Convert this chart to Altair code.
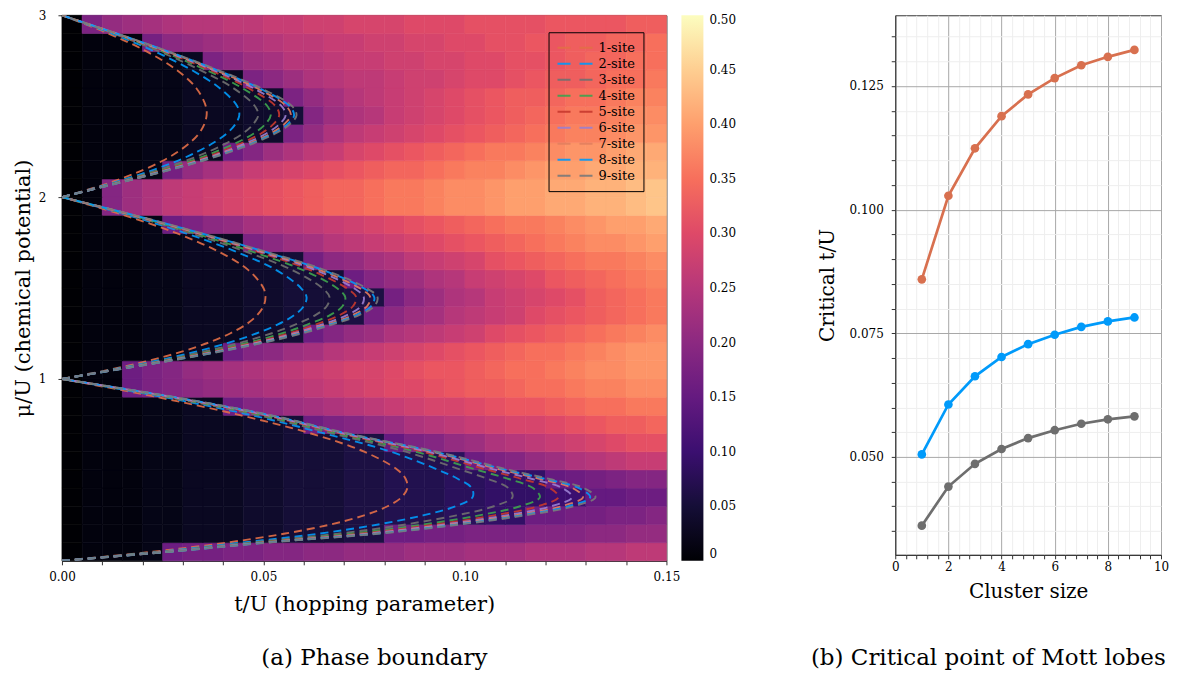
import altair as alt
import pandas as pd

# ---------------- left panel: heat map (order parameter, in hundredths) ----------------
T_EDGES = [0.000, 0.005, 0.010, 0.015, 0.020, 0.025, 0.030, 0.035, 0.040, 0.045,
           0.050, 0.055, 0.060, 0.065, 0.070, 0.075, 0.080, 0.085, 0.090, 0.095,
           0.100, 0.105, 0.110, 0.115, 0.120, 0.125, 0.130, 0.135, 0.140, 0.145, 0.150]
MU_EDGES = [0.0, 0.1, 0.2, 0.3, 0.4, 0.5, 0.6, 0.7, 0.8, 0.9, 1.0,
            1.1, 1.2, 1.3, 1.4, 1.5, 1.6, 1.7, 1.8, 1.9, 2.0,
            2.1, 2.2, 2.3, 2.4, 2.5, 2.6, 2.7, 2.8, 2.9, 3.0]
# rows from mu=0 (bottom) to mu=3 (top); columns from t=0 to t=0.15
HEAT = [
    [0, 1, 1, 1, 2, 16, 17, 17, 18, 18, 19, 19, 20, 20, 21, 21, 21, 22, 22, 22, 23, 23, 23, 24, 24, 24, 25, 25, 26, 26],
    [0, 1, 1, 1, 2, 2, 3, 3, 3, 4, 4, 5, 5, 5, 6, 6, 16, 16, 17, 17, 18, 18, 18, 19, 19, 19, 20, 20, 21, 21],
    [0, 1, 1, 1, 2, 2, 3, 3, 3, 4, 4, 5, 5, 5, 6, 6, 7, 7, 7, 8, 8, 9, 9, 16, 16, 17, 17, 18, 18, 19],
    [0, 1, 1, 1, 2, 2, 3, 3, 3, 4, 4, 5, 5, 5, 6, 6, 7, 7, 7, 8, 8, 9, 9, 9, 10, 10, 15, 15, 16, 16],
    [0, 1, 1, 1, 2, 2, 3, 3, 3, 4, 4, 5, 5, 5, 6, 6, 7, 7, 7, 8, 8, 9, 9, 9, 15, 16, 17, 18, 19, 19],
    [0, 1, 1, 1, 2, 2, 3, 3, 3, 4, 4, 5, 5, 5, 6, 6, 7, 7, 7, 8, 16, 18, 19, 21, 22, 24, 25, 26, 27, 27],
    [0, 1, 1, 1, 2, 2, 3, 3, 3, 4, 4, 5, 5, 5, 6, 6, 15, 18, 19, 21, 22, 24, 25, 26, 27, 28, 29, 30, 31, 31],
    [0, 1, 1, 1, 2, 2, 3, 3, 3, 4, 4, 5, 16, 18, 19, 21, 22, 24, 25, 26, 27, 28, 29, 29, 30, 31, 32, 33, 33, 34],
    [0, 1, 1, 1, 2, 2, 3, 3, 16, 19, 20, 22, 23, 24, 25, 26, 27, 28, 29, 29, 30, 31, 32, 32, 33, 34, 35, 35, 36, 36],
    [0, 1, 1, 16, 18, 19, 20, 21, 22, 23, 24, 25, 26, 27, 28, 29, 30, 30, 31, 32, 33, 33, 34, 35, 35, 36, 37, 37, 38, 38],
    [0, 1, 1, 16, 18, 19, 21, 22, 23, 24, 25, 26, 27, 28, 29, 29, 30, 31, 32, 32, 33, 34, 35, 35, 36, 37, 38, 38, 39, 39],
    [0, 1, 1, 1, 2, 2, 3, 3, 16, 19, 20, 22, 23, 25, 26, 27, 28, 29, 30, 31, 32, 33, 34, 35, 35, 36, 37, 38, 39, 39],
    [0, 1, 1, 1, 2, 2, 3, 3, 3, 4, 4, 5, 16, 19, 21, 22, 24, 25, 26, 27, 28, 30, 31, 32, 33, 34, 35, 36, 37, 38],
    [0, 1, 1, 1, 2, 2, 3, 3, 3, 4, 4, 5, 5, 5, 6, 17, 20, 22, 23, 25, 26, 27, 28, 30, 31, 32, 33, 34, 35, 36],
    [0, 1, 1, 1, 2, 2, 3, 3, 3, 4, 4, 5, 5, 5, 6, 6, 17, 20, 22, 24, 25, 27, 28, 29, 30, 31, 33, 34, 35, 36],
    [0, 1, 1, 1, 2, 2, 3, 3, 3, 4, 4, 5, 5, 5, 16, 19, 21, 22, 24, 25, 27, 28, 29, 30, 32, 33, 34, 35, 36, 37],
    [0, 1, 1, 1, 2, 2, 3, 3, 3, 4, 4, 5, 17, 20, 21, 23, 24, 26, 27, 28, 29, 31, 32, 33, 34, 35, 36, 36, 37, 38],
    [0, 1, 1, 1, 2, 2, 3, 3, 3, 18, 20, 22, 23, 25, 26, 27, 28, 29, 30, 31, 32, 33, 34, 35, 36, 37, 38, 38, 39, 40],
    [0, 1, 1, 1, 2, 16, 18, 20, 21, 23, 24, 25, 26, 27, 28, 29, 30, 31, 32, 33, 34, 35, 36, 36, 37, 38, 39, 40, 40, 41],
    [0, 1, 19, 22, 24, 26, 27, 28, 29, 30, 31, 32, 33, 34, 34, 35, 36, 36, 37, 38, 38, 39, 40, 40, 41, 41, 42, 42, 43, 44],
    [0, 1, 19, 22, 24, 26, 27, 28, 29, 30, 31, 32, 33, 34, 34, 35, 36, 36, 37, 38, 38, 39, 40, 40, 41, 41, 42, 42, 43, 44],
    [0, 1, 1, 1, 2, 17, 21, 23, 25, 27, 28, 29, 30, 31, 32, 33, 34, 34, 35, 36, 37, 37, 38, 39, 40, 40, 41, 41, 42, 42],
    [0, 1, 1, 1, 2, 2, 3, 3, 16, 19, 22, 24, 26, 27, 29, 30, 31, 32, 33, 34, 35, 36, 36, 37, 38, 39, 39, 40, 41, 41],
    [0, 1, 1, 1, 2, 2, 3, 3, 3, 4, 4, 18, 21, 24, 26, 27, 28, 29, 30, 31, 32, 33, 34, 35, 36, 37, 37, 38, 39, 39],
    [0, 1, 1, 1, 2, 2, 3, 3, 3, 4, 4, 5, 19, 22, 24, 25, 27, 28, 29, 30, 31, 32, 33, 34, 35, 36, 36, 37, 38, 38],
    [0, 1, 1, 1, 2, 2, 3, 3, 3, 4, 4, 18, 21, 23, 25, 26, 27, 28, 29, 30, 31, 32, 33, 33, 34, 35, 35, 36, 37, 37],
    [0, 1, 1, 1, 2, 2, 3, 3, 3, 18, 20, 22, 24, 25, 26, 26, 27, 28, 28, 29, 30, 30, 31, 32, 33, 33, 34, 35, 35, 36],
    [0, 1, 1, 1, 2, 2, 3, 18, 20, 22, 23, 25, 25, 26, 27, 27, 28, 28, 29, 29, 30, 30, 31, 31, 32, 33, 34, 34, 35, 35],
    [0, 1, 1, 1, 17, 20, 21, 22, 23, 24, 25, 26, 26, 27, 27, 28, 28, 29, 29, 30, 30, 31, 31, 32, 32, 33, 33, 34, 34, 35],
    [0, 18, 21, 22, 23, 24, 25, 25, 26, 26, 27, 27, 28, 28, 29, 29, 29, 30, 30, 30, 31, 31, 31, 31, 32, 32, 32, 32, 33, 33],
]

# ---------------- left panel: Mott-lobe boundaries (t/U in thousandths) ----------------
PHI = [0, 0.05, 0.1, 0.15, 0.2, 0.25, 0.3, 0.35, 0.4, 0.45, 0.5, 0.6, 0.7, 0.8, 0.9, 1.0]
SITES = ["1-site", "2-site", "3-site", "4-site", "5-site", "6-site", "7-site", "8-site", "9-site"]
SITE_COLORS = ["#e36f47", "#009afa", "#707070", "#3ea44e", "#c8392e",
               "#9b7fd1", "#e3805f", "#009afa", "#7a7a7a"]
LOBE1_T = [
    [0, 22.6, 40.9, 55.4, 66.7, 75.0, 80.8, 84.3, 85.7, 85.3, 83.3, 75.0, 61.8, 44.4, 23.7, 0],
    [0, 24.2, 44.6, 64.0, 78.5, 89.6, 97.7, 101.9, 101.7, 98.3, 93.4, 81.6, 65.2, 47.2, 25.3, 0],
    [0, 25.1, 46.7, 68.9, 85.2, 97.9, 107.2, 111.8, 110.8, 105.7, 99.1, 85.3, 67.1, 48.7, 26.2, 0],
    [0, 25.7, 48.1, 72.2, 89.7, 103.5, 113.7, 118.6, 116.9, 110.8, 103.0, 87.8, 68.4, 49.8, 26.8, 0],
    [0, 26.2, 49.1, 74.5, 92.8, 107.3, 118.1, 123.2, 121.1, 114.1, 105.7, 89.5, 69.2, 50.5, 27.2, 0],
    [0, 26.5, 49.8, 76.1, 95.1, 110.2, 121.4, 126.6, 124.2, 116.7, 107.6, 90.8, 69.9, 51.1, 27.5, 0],
    [0, 26.7, 50.3, 77.5, 96.9, 112.4, 124.0, 129.3, 126.7, 118.7, 109.2, 91.8, 70.4, 51.5, 27.7, 0],
    [0, 26.9, 50.7, 78.3, 98.1, 113.9, 125.7, 131.1, 128.3, 120.0, 110.2, 92.5, 70.7, 51.8, 27.9, 0],
    [0, 27.0, 51.0, 79.0, 99.0, 115.0, 127.0, 132.4, 129.5, 121.0, 111.0, 93.0, 71.0, 52.0, 28.0, 0],
]
LOBE2_T = [
    [0, 11.6, 21.4, 29.7, 36.4, 41.7, 45.7, 48.4, 50.0, 50.5, 50.0, 46.2, 38.9, 28.6, 15.5, 0],
    [0, 12.2, 23.4, 33.2, 41.4, 48.2, 53.6, 57.6, 60.0, 60.7, 59.3, 53.1, 43.2, 30.9, 16.5, 0],
    [0, 12.6, 24.5, 35.1, 44.3, 51.9, 58.0, 62.8, 65.7, 66.4, 64.6, 57.0, 45.6, 32.2, 17.0, 0],
    [0, 12.8, 25.3, 36.5, 46.2, 54.5, 61.0, 66.4, 69.6, 70.3, 68.2, 59.7, 47.2, 33.1, 17.4, 0],
    [0, 13.0, 25.8, 37.4, 47.6, 56.2, 63.1, 68.8, 72.2, 73.0, 70.6, 61.5, 48.4, 33.7, 17.6, 0],
    [0, 13.1, 26.2, 38.1, 48.5, 57.4, 64.6, 70.6, 74.2, 74.9, 72.4, 62.8, 49.2, 34.1, 17.8, 0],
    [0, 13.2, 26.5, 38.6, 49.3, 58.4, 65.8, 72.0, 75.7, 76.5, 73.8, 63.9, 49.8, 34.5, 17.9, 0],
    [0, 13.3, 26.7, 38.9, 49.8, 59.1, 66.6, 72.9, 76.7, 77.5, 74.8, 64.6, 50.3, 34.7, 18.0, 0],
    [0, 13.3, 26.8, 39.2, 50.2, 59.6, 67.2, 73.6, 77.5, 78.3, 75.5, 65.1, 50.6, 34.9, 18.1, 0],
]
LOBE3_T = [
    [0, 7.8, 14.5, 20.2, 25.0, 28.8, 31.8, 34.0, 35.3, 35.9, 35.7, 33.3, 28.4, 21.1, 11.5, 0],
    [0, 8.2, 15.8, 22.7, 28.7, 33.6, 37.7, 40.9, 43.0, 44.0, 43.5, 39.1, 32.1, 23.1, 12.3, 0],
    [0, 8.5, 16.6, 24.0, 30.7, 36.4, 41.1, 44.9, 47.4, 48.7, 47.9, 42.5, 34.2, 24.3, 12.7, 0],
    [0, 8.7, 17.1, 25.0, 32.1, 38.2, 43.4, 47.6, 50.4, 51.8, 51.0, 44.7, 35.7, 25.0, 13.0, 0],
    [0, 8.8, 17.4, 25.6, 33.1, 39.5, 44.9, 49.4, 52.4, 53.9, 53.0, 46.2, 36.6, 25.5, 13.2, 0],
    [0, 8.9, 17.7, 26.1, 33.8, 40.4, 46.0, 50.7, 53.9, 55.5, 54.5, 47.4, 37.4, 25.9, 13.4, 0],
    [0, 8.9, 17.9, 26.5, 34.4, 41.1, 47.0, 51.8, 55.1, 56.8, 55.7, 48.3, 37.9, 26.2, 13.5, 0],
    [0, 9.0, 18.0, 26.7, 34.7, 41.6, 47.6, 52.5, 55.9, 57.6, 56.5, 48.9, 38.3, 26.5, 13.5, 0],
    [0, 9.0, 18.1, 26.9, 35.0, 42.0, 48.0, 53.0, 56.5, 58.2, 57.1, 49.3, 38.6, 26.6, 13.6, 0],
]

# ---------------- right panel: critical points ----------------
CLUSTER = [1, 2, 3, 4, 5, 6, 7, 8, 9]
MI1 = [0.0859, 0.1028, 0.1124, 0.1189, 0.1233, 0.1266, 0.1292, 0.1309, 0.1323]
MI2 = [0.0505, 0.0606, 0.0663, 0.0702, 0.0728, 0.0747, 0.0763, 0.0774, 0.0782]
MI3 = [0.0361, 0.0440, 0.0486, 0.0516, 0.0538, 0.0554, 0.0567, 0.0576, 0.0582]
LOBES = ["MI-1 lobe", "MI-2 lobe", "MI-3 lobe"]
LOBE_COLORS = ["#d8704f", "#009afa", "#6e6e6e"]

# tick positions / labels
T_TICKS = [0.00, 0.01, 0.02, 0.03, 0.04, 0.05, 0.06, 0.07, 0.08, 0.09, 0.10,
           0.11, 0.12, 0.13, 0.14, 0.15]
MU_TICKS = [1, 2, 3]
CB_TICKS = [0, 0.05, 0.10, 0.15, 0.20, 0.25, 0.30, 0.35, 0.40, 0.45, 0.50]
SIZE_TICKS = [0, 0.4, 0.8, 1.2, 1.6, 2, 2.4, 2.8, 3.2, 3.6, 4, 4.4, 4.8, 5.2, 5.6, 6,
              6.4, 6.8, 7.2, 7.6, 8, 8.4, 8.8, 9.2, 9.6, 10]
TC_TICKS = [0.035, 0.040, 0.045, 0.050, 0.055, 0.060, 0.065, 0.070, 0.075, 0.080,
            0.085, 0.090, 0.095, 0.100, 0.105, 0.110, 0.115, 0.120, 0.125, 0.130, 0.135]

FONT = "DejaVu Serif"

# ---------------- build tables ----------------
heat_rows = []
for i, row in enumerate(HEAT):
    for j, v in enumerate(row):
        heat_rows.append({"t0": T_EDGES[j], "t1": T_EDGES[j + 1],
                          "m0": MU_EDGES[i], "m1": MU_EDGES[i + 1], "val": v / 100})
heat_df = pd.DataFrame(heat_rows)

curve_rows = []
for n, lobe in enumerate([LOBE1_T, LOBE2_T, LOBE3_T], start=1):
    for k, tvals in enumerate(lobe):
        for idx, (phi, tm) in enumerate(zip(PHI, tvals)):
            curve_rows.append({"t": tm / 1000, "mu": n - 1 + phi, "site": SITES[k],
                               "curve": f"{n}-{k}", "idx": idx})
curve_df = pd.DataFrame(curve_rows)

crit_rows = []
for name, vals in zip(LOBES, [MI1, MI2, MI3]):
    for c, v in zip(CLUSTER, vals):
        crit_rows.append({"size": c, "tc": v, "lobe": name})
crit_df = pd.DataFrame(crit_rows)

# ---------------- left panel ----------------
x_scale = alt.Scale(domain=[0, 0.15], nice=False, zero=False)
y_scale = alt.Scale(domain=[0, 3], nice=False, zero=False)
x_axis = alt.Axis(values=T_TICKS, labelFlush=False, labelOverlap=False, grid=False, tickSize=4,
                  labelPadding=7, titlePadding=11, titleFontSize=21,
                  labelExpr="abs(datum.value*20 - round(datum.value*20)) < 1e-6 ? format(datum.value, '.2f') : ''")
y_axis = alt.Axis(values=MU_TICKS, format="d", labelOverlap=False, grid=False, tickSize=4,
                  labelPadding=12, titlePadding=5, titleFontSize=21)
magma = alt.Scale(scheme="magma", domain=[0, 0.5])

heat = alt.Chart(heat_df).mark_rect(strokeWidth=0.6).encode(
    x=alt.X("t0:Q", scale=x_scale, axis=x_axis, title="t/U (hopping parameter)"),
    x2="t1:Q",
    y=alt.Y("m0:Q", scale=y_scale, axis=y_axis, title="μ/U (chemical potential)"),
    y2="m1:Q",
    color=alt.Color("val:Q", scale=magma,
                    legend=alt.Legend(title=None, orient="right", offset=15, direction="vertical",
                                      gradientLength=546, gradientThickness=22,
                                      gradientStrokeWidth=0, values=CB_TICKS,
                                      labelOffset=6, labelFontSize=12,
                                      labelOverlap=False,
                                      labelExpr="datum.value == 0 ? '0' : format(datum.value, '.2f')")),
    stroke=alt.Stroke("val:Q", scale=magma, legend=None),
)

lines = alt.Chart(curve_df).mark_line(strokeDash=[8, 5], strokeWidth=1.9, clip=True,
                                      interpolate="catmull-rom", opacity=0.9).encode(
    x=alt.X("t:Q", scale=x_scale, title="t/U (hopping parameter)"),
    y=alt.Y("mu:Q", scale=y_scale, title="μ/U (chemical potential)"),
    color=alt.Color("site:N", scale=alt.Scale(domain=SITES, range=SITE_COLORS),
                    legend=alt.Legend(title=None, orient="none", legendX=487, legendY=17,
                                      symbolType="M-1,0H4.4", symbolSize=169,
                                      symbolStrokeWidth=2, symbolDash=[13, 9],
                                      labelOffset=27, rowPadding=1, padding=8,
                                      strokeColor="black", labelFontSize=13)),
    detail="curve:N",
    order="idx:Q",
)

left = alt.layer(heat, lines).resolve_scale(color="independent").properties(
    width=605, height=546,
    title=alt.TitleParams("(a) Phase boundary", orient="bottom", anchor="middle",
                          frame="bounds", offset=32, fontSize=23),
)

# ---------------- right panel ----------------
even_x = "abs(datum.value/2 - round(datum.value/2)) < 1e-6"
major_y = "abs(datum.value/0.025 - round(datum.value/0.025)) < 1e-6"
rx_axis = alt.Axis(values=SIZE_TICKS, labelFlush=False, labelOverlap=False, tickSize=4, labelPadding=3,
                   titlePadding=9, titleFontSize=20,
                   gridColor={"condition": {"test": even_x, "value": "#a8a8a8"}, "value": "#eeeeee"},
                   labelExpr=f"({even_x}) ? format(datum.value, 'd') : ''")
ry_axis = alt.Axis(values=TC_TICKS, labelOverlap=False, tickSize=4, labelPadding=8, titlePadding=11,
                   titleFontSize=20,
                   gridColor={"condition": {"test": major_y, "value": "#a8a8a8"}, "value": "#eeeeee"},
                   labelExpr=f"({major_y}) ? format(datum.value, '.3f') : ''")

rbase = alt.Chart(crit_df).encode(
    x=alt.X("size:Q", scale=alt.Scale(domain=[0, 10], nice=False), axis=rx_axis, title="Cluster size"),
    y=alt.Y("tc:Q", scale=alt.Scale(domain=[0.0302, 0.1393], nice=False, zero=False),
            axis=ry_axis, title="Critical t/U"),
)
rline = rbase.mark_line(strokeWidth=2.7).encode(
    color=alt.Color("lobe:N", scale=alt.Scale(domain=LOBES, range=LOBE_COLORS), legend=None)
)
rpts = rbase.mark_point(filled=True, size=75, opacity=1).encode(
    color=alt.Color("lobe:N", scale=alt.Scale(domain=LOBES, range=LOBE_COLORS),
                    legend=alt.Legend(title=None, orient="none", legendX=165, legendY=459,
                                      symbolType="circle", symbolSize=150, symbolStrokeWidth=0,
                                      labelFontSize=13, padding=6, rowPadding=3,
                                      strokeColor="black", fillColor="white"))
)
right = alt.layer(rline, rpts).properties(
    width=266, height=540,
    title=alt.TitleParams("(b) Critical point of Mott lobes", orient="bottom", anchor="middle",
                          frame="bounds", offset=45, dx=-5, fontSize=23),
)

chart = alt.hconcat(left, right, spacing=72).resolve_scale(color="independent").properties(
    padding={"left": 3, "top": 0, "right": 0, "bottom": 0}
).configure_axis(
    labelFont=FONT, titleFont=FONT, labelFontSize=12, titleFontWeight="normal",
    labelColor="black", titleColor="black", domainColor="#333333", tickColor="#333333",
).configure_legend(
    labelFont=FONT, labelColor="black",
).configure_view(
    stroke="#333333", strokeWidth=1,
).configure_title(
    font=FONT, fontWeight="normal", color="black",
)

chart.save("out.html", embed_options={"renderer": "svg", "actions": False})
